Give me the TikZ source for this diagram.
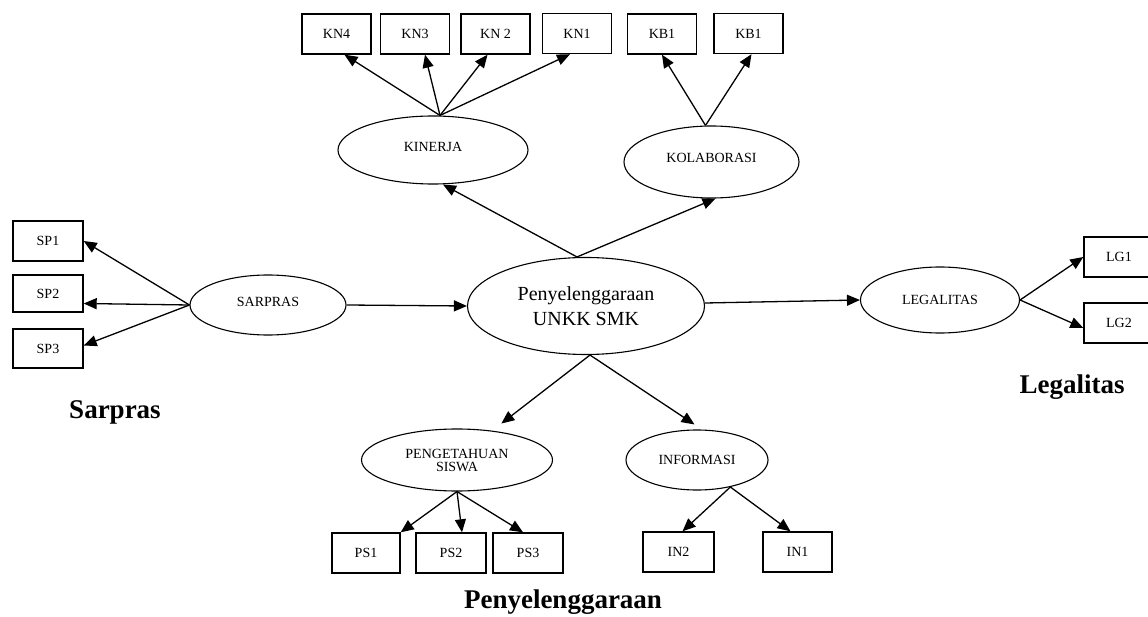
\documentclass[tikz,border=0pt]{standalone}
\usepackage{fontspec}
\setmainfont{Liberation Serif}
\usetikzlibrary{shapes.geometric}
\usetikzlibrary{arrows.meta}
\newcommand{\kecil}{\fontsize{14}{15}\selectfont}
\tikzset{
kotak/.style={draw,rectangle,line width=1.4pt,minimum width=69pt,minimum height=40pt,inner sep=0pt,font=\kecil},
elips/.style={draw,ellipse,line width=1.1pt,inner sep=0pt,align=center,font=\kecil},
panah/.style={-{Triangle[length=13pt,width=11pt]},line width=1.3pt},
judul/.style={font=\fontsize{27}{30}\selectfont\bfseries,anchor=base}
}
\begin{document}
\begin{tikzpicture}[x=1pt,y=-1pt]
\useasboundingbox (0,0) rectangle (1148,617);
\node[kotak] (kn4) at (336.5,34) {KN4};
\node[kotak] (kn3) at (415,34) {KN3};
\node[kotak] (kn2) at (495.5,34) {KN 2};
\node[kotak] (kn1) at (577,33.5) {KN1};
\node[kotak] (kba) at (662,34) {KB1};
\node[kotak] (kbb) at (748.5,33.5) {KB1};
\node[elips,minimum width=190pt,minimum height=68pt] (kinerja) at (433,150) {\raisebox{7pt}{KINERJA}};
\node[elips,minimum width=175pt,minimum height=72pt] (kolaborasi) at (711.5,162) {\raisebox{9pt}{KOLABORASI}};
\node[elips,minimum width=237pt,minimum height=97pt,font=\fontsize{20}{25}\selectfont] (utama) at (586,306) {Penyelenggaraan\\UNKK SMK};
\node[elips,minimum width=156pt,minimum height=60pt] (sarpras) at (268,305) {\raisebox{6pt}{SARPRAS}};
\node[elips,minimum width=159pt,minimum height=66pt] (legalitas) at (940,300) {\raisebox{-9pt}{LEGALITAS}};
\node[elips,minimum width=191pt,minimum height=62pt,font=\fontsize{14}{13}\selectfont] (pengetahuan) at (457,460) {PENGETAHUAN\\SISWA};
\node[elips,minimum width=142pt,minimum height=60pt] (informasi) at (697,460) {INFORMASI};
\node[kotak,minimum width=70pt] (sp1) at (48,241) {SP1};
\node[kotak,minimum width=70pt,minimum height=37pt] (sp2) at (48,293.5) {SP2};
\node[kotak,minimum width=70pt,minimum height=39pt] (sp3) at (48,348.5) {SP3};
\node[kotak,minimum width=70pt] (lg1) at (1119,257) {LG1};
\node[kotak,minimum width=70pt] (lg2) at (1119,323) {LG2};
\node[kotak,minimum width=68pt] (ps1) at (366,553) {PS1};
\node[kotak,minimum width=70pt] (ps2) at (451,553) {PS2};
\node[kotak,minimum width=70pt] (ps3) at (528,553) {PS3};
\node[kotak,minimum width=71pt] (in2) at (678.5,552) {IN2};
\node[kotak] (in1) at (797.5,552) {IN1};
\node[judul] (lsarpras) at (115,418) {Sarpras};
\node[judul] (llegalitas) at (1072,393) {Legalitas};
\node[judul] (lpenyelenggaraan) at (563,608) {Penyelenggaraan};

\draw[panah] ([xshift=7]kinerja.north) -- ([xshift=8]kn4.south);
\draw[panah] ([xshift=7]kinerja.north) -- ([xshift=10]kn3.south);
\draw[panah] ([xshift=7]kinerja.north) -- ([xshift=-8]kn2.south);
\draw[panah] ([xshift=7]kinerja.north) -- ([xshift=-7]kn1.south);
\draw[panah] ([xshift=-6]kolaborasi.north) -- (kba.south);
\draw[panah] ([xshift=-6]kolaborasi.north) -- ([xshift=3]kbb.south);

\draw[panah] ([xshift=-9]utama.north) -- ([xshift=10]kinerja.south);
\draw[panah] ([xshift=-9]utama.north) -- ([xshift=4]kolaborasi.south);
\draw[panah] (sarpras.east) -- (utama.west);
\draw[panah] ([yshift=3]utama.east) -- (legalitas.west);
\draw[panah,shorten >=8pt] ([xshift=4]utama.south) -- ([xshift=38]pengetahuan.north);
\draw[panah,shorten >=9pt] ([xshift=4]utama.south) -- ([xshift=5]informasi.north);

\draw[panah] (sarpras.west) -- (sp1.east);
\draw[panah] (sarpras.west) -- ([yshift=-10]sp2.east);
\draw[panah] (sarpras.west) -- ([yshift=3]sp3.east);
\draw[panah] (legalitas.east) -- (lg1.west);
\draw[panah] (legalitas.east) -- ([yshift=-5]lg2.west);

\draw[panah] (pengetahuan.south) -- (ps1.north east);
\draw[panah] (pengetahuan.south) -- ([xshift=11]ps2.north);
\draw[panah] (pengetahuan.south) -- ([xshift=-5]ps3.north);
\draw[panah] (informasi.-39) -- ([xshift=4]in2.north);
\draw[panah] (informasi.-39) -- ([xshift=-7]in1.north);
\end{tikzpicture}
\end{document}
